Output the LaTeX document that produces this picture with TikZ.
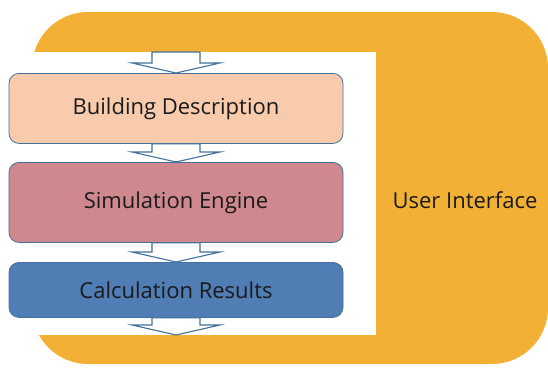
\documentclass[tikz,border=0pt]{standalone}
\usepackage{fontspec}
\setmainfont{Open Sans}
\usetikzlibrary{calc}

\definecolor{uiorange}{HTML}{F2B134}
\definecolor{descfill}{HTML}{F8CBAD}
\definecolor{enginefill}{HTML}{CF898E}
\definecolor{resultfill}{HTML}{4F7DB4}
\definecolor{edgeblue}{HTML}{41719C}
\definecolor{textdark}{HTML}{1A1A1A}

\tikzset{
  labelfont/.style={text=textdark, font=\fontsize{22}{26}\selectfont},
  stagebox/.style={draw=edgeblue, line width=0.8pt, rounded corners=10pt,
    minimum width=334pt, anchor=north, labelfont},
  blockarrow/.style={draw=edgeblue, line width=1.1pt, fill=white, line join=miter},
}

% hollow block arrow from the bottom of one item to the top of the next
\newcommand\blockarrow[2]{%
  \draw[blockarrow] let \p1=(#1), \p2=(#2) in
    (\x1-24pt,\y1) -- (\x1-24pt,\y2+10pt) -- (\x1-44pt,\y2+10pt) -- (\x2,\y2)
    -- (\x1+44pt,\y2+10pt) -- (\x1+24pt,\y2+10pt) -- (\x1+24pt,\y1) -- cycle;}

\begin{document}
\begin{tikzpicture}[x=1pt,y=1pt]
  \useasboundingbox (0,0) rectangle (548,-367);

  % user interface frame with the white working area cut into it
  \fill[uiorange, rounded corners=56pt] (32,-12) rectangle (548,-364);
  \fill[white] (0,-52) rectangle (376,-335);
  \node[labelfont] (ui) at (465,-200) {User Interface};

  % processing stages
  \node[stagebox, fill=descfill, minimum height=70pt] (desc) at (176,-73) {Building Description};
  \node[stagebox, fill=enginefill, minimum height=80pt] (engine) at (176,-162) {Simulation Engine};
  \node[stagebox, fill=resultfill, minimum height=55pt] (result) at (176,-262) {Calculation Results};

  \coordinate (in) at (176,-52);
  \coordinate (out) at (176,-335);

  \blockarrow{in}{desc.north}
  \blockarrow{desc.south}{engine.north}
  \blockarrow{engine.south}{result.north}
  \blockarrow{result.south}{out}
\end{tikzpicture}
\end{document}
